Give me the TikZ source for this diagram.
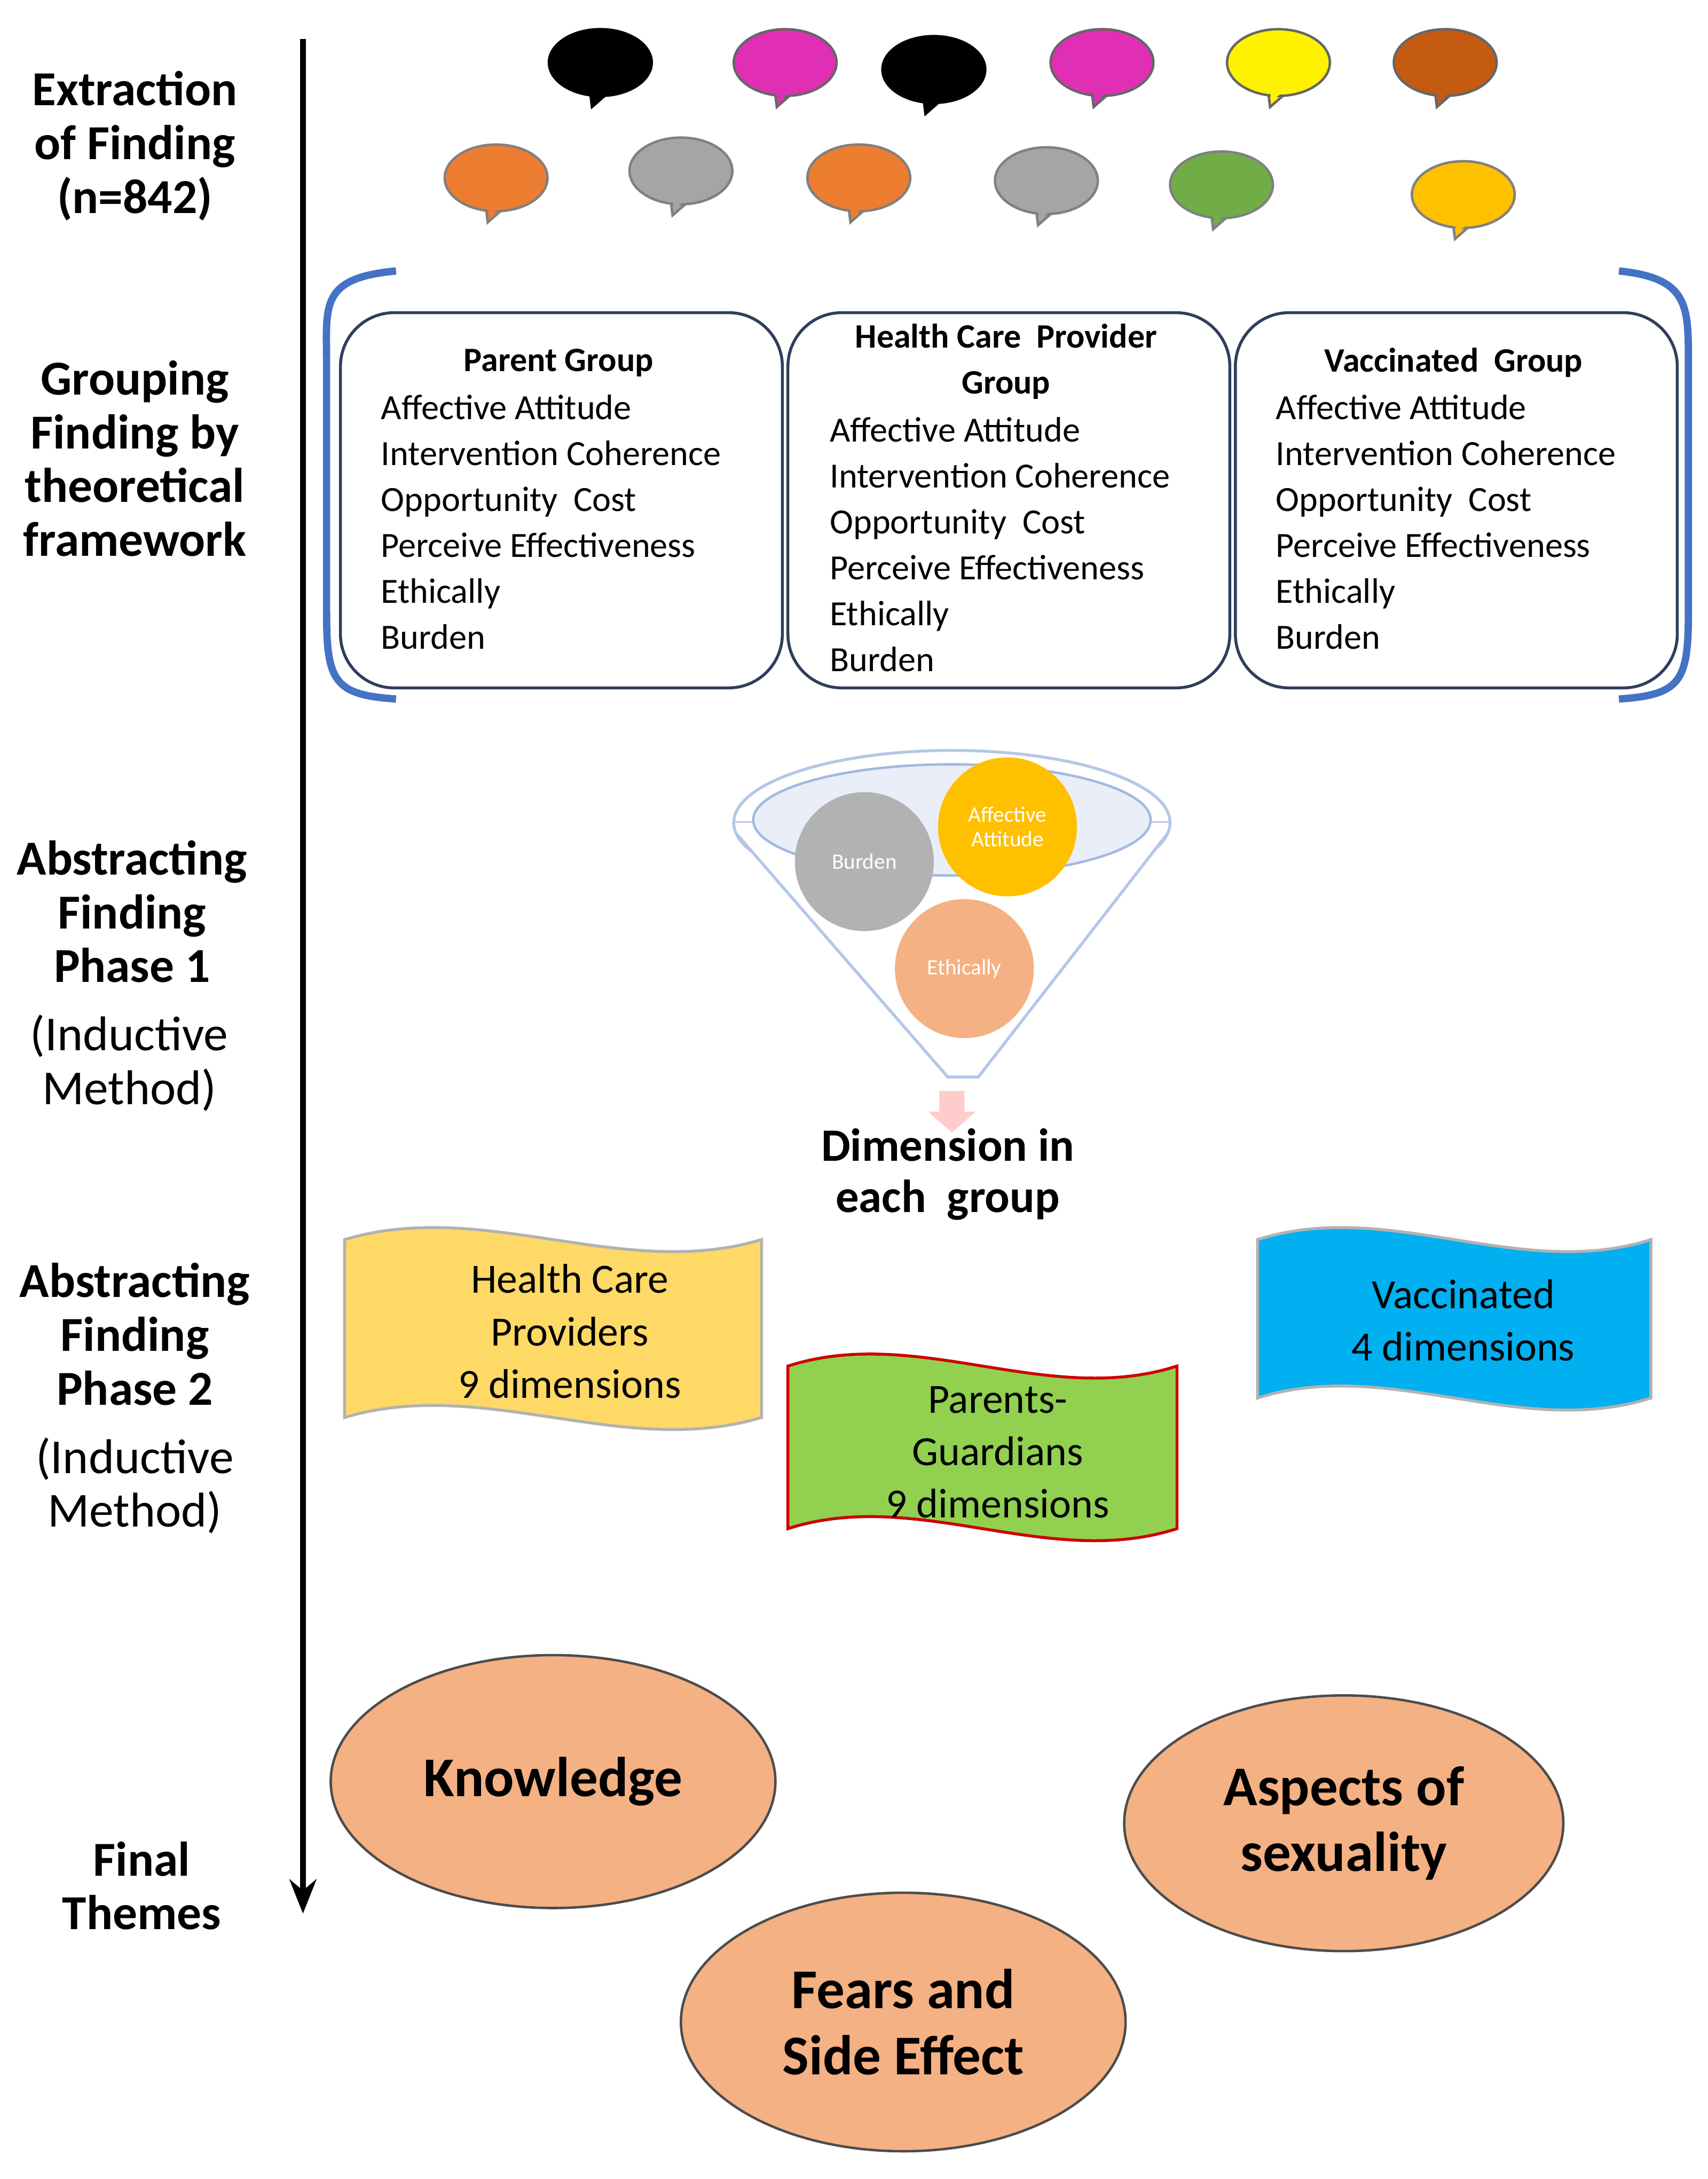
\documentclass[tikz,border=0pt]{standalone}
\usepackage{fontspec}
\setmainfont{Carlito}
\usetikzlibrary{arrows.meta,shapes.geometric}
\definecolor{navy}{HTML}{2F3E5C}
\definecolor{bblue}{HTML}{4472C4}
\definecolor{salmon}{HTML}{F4B183}
\definecolor{borange}{HTML}{ED7D31}
\definecolor{bmag}{HTML}{E02FB5}
\definecolor{bbrown}{HTML}{C55A11}
\definecolor{bgreen}{HTML}{70AD47}
\definecolor{bgold}{HTML}{FFC000}
\definecolor{bgray}{HTML}{A5A5A5}
\definecolor{byel}{HTML}{FFD966}
\definecolor{bgr2}{HTML}{92D050}
\definecolor{bcyan}{HTML}{00B0F0}
\newcommand{\bubble}[4]{%
 \draw[fill=#3,draw=#4,line width=1pt] ({#1-8},{#2+16}) -- ({#1-6},{#2+32}) -- ({#1+10},{#2+18}) -- cycle;
 \draw[fill=#3,draw=#4,line width=1pt] (#1,#2) ellipse (37 and 24);
 \fill[#3] ({#1-7},{#2+14}) -- ({#1-5},{#2+28}) -- ({#1+9},{#2+16}) -- cycle;}
\newcommand{\banner}[6]{%
 \draw[fill=#5,draw=#6,line width=1.2pt] (#1,#2) .. controls ({#1+(#3-#1)/3},{#2-30}) and ({#1+2*(#3-#1)/3},{#2+30}) .. (#3,#2)
 -- (#3,#4) .. controls ({#1+2*(#3-#1)/3},{#4+30}) and ({#1+(#3-#1)/3},{#4-30}) .. (#1,#4) -- cycle;}
\begin{document}
\begin{tikzpicture}[x=0.02cm,y=-0.02cm,
 lab/.style={align=center,font=\fontsize{20}{22}\selectfont\bfseries},
 labn/.style={align=center,font=\fontsize{20}{22}\selectfont},
 box/.style={draw=navy,line width=1.2pt,rounded corners=22pt},
 item/.style={align=left,anchor=north west,font=\fontsize{14.5}{18.8}\selectfont},
 ttl/.style={align=center,font=\fontsize{14}{18.8}\selectfont\bfseries},
 circ/.style={circle,minimum size=100*0.02cm,inner sep=0pt,text=white,font=\fontsize{9}{10}\selectfont,align=center},
 theme/.style={ellipse,draw=black!70,line width=1pt,fill=salmon,font=\fontsize{23}{27}\selectfont\bfseries,align=center},
 ban/.style={align=center,font=\fontsize{17}{21.5}\selectfont}]
\useasboundingbox (0,0) rectangle (1229,1568);
\coordinate (atop) at (218,28); \coordinate (abot) at (218,1377);
\draw[line width=2.5pt,-{Stealth[length=14pt,width=11pt]}] (atop) -- (abot);
\node[lab] (l1) at (97,105) {Extraction\\of Finding\\(n=842)};
\node[lab] (l2) at (97,330) {Grouping\\Finding by\\theoretical\\framework};
\node[lab] (l3) at (95,656) {Abstracting\\Finding\\Phase 1};
\node[labn] (l3b) at (93,765) {(Inductive\\Method)};
\node[lab] (l4) at (97,960) {Abstracting\\Finding\\Phase 2};
\node[labn] (l4b) at (97,1069) {(Inductive\\Method)};
\node[lab] (l5) at (102,1357) {Final\\Themes};
% bubbles
\bubble{432}{45}{black}{black}
\bubble{565}{45}{bmag}{black!60}
\bubble{672}{50}{black}{black}
\bubble{793}{45}{bmag}{black!60}
\bubble{920}{45}{yellow}{black!60}
\bubble{1040}{45}{bbrown}{black!60}
\bubble{357}{128}{borange}{black!50}
\bubble{490}{123}{bgray}{black!50}
\bubble{618}{128}{borange}{black!50}
\bubble{753}{130}{bgray}{black!50}
\bubble{879}{133}{bgreen}{black!50}
\bubble{1053}{140}{bgold}{black!50}
% brackets
\draw[bblue,line width=3pt] (285,195) .. controls (230,200) and (235,220) .. (235,260) -- (235,440) .. controls (235,490) and (240,500) .. (285,503);
\draw[bblue,line width=3pt] (1165,195) .. controls (1215,200) and (1215,220) .. (1215,260) -- (1215,440) .. controls (1215,490) and (1210,500) .. (1165,503);
% boxes
\draw[box] (245,225) rectangle (563,495);
\draw[box] (567,225) rectangle (885,495);
\draw[box] (889,225) rectangle (1207,495);
\node[ttl] (t1) at (402,261) {Parent Group};
\node[item] (i1) at (268,278) {Affective Attitude\\Intervention Coherence\\Opportunity\ \ Cost\\Perceive Effectiveness\\Ethically\\Burden};
\node[ttl] (t2) at (724,260) {Health Care\ \ Provider\\Group};
\node[item] (i2) at (591,294) {Affective Attitude\\Intervention Coherence\\Opportunity\ \ Cost\\Perceive Effectiveness\\Ethically\\Burden};
\node[ttl] (t3) at (1046,261) {Vaccinated\ \ Group};
\node[item] (i3) at (912,278) {Affective Attitude\\Intervention Coherence\\Opportunity\ \ Cost\\Perceive Effectiveness\\Ethically\\Burden};
% funnel
\draw[bblue!40,fill=white,line width=1.2pt] (842,592) arc (0:-180:157 and 52) -- cycle;
\draw[bblue!40,fill=white,line width=1.2pt] (528,592) arc (180:0:157 and 52);
\draw[bblue!40,fill=white,line width=1.2pt] (530,600) -- (682,775) -- (704,775) -- (840,600);
\draw[bblue!50,fill=bblue!12,line width=1pt] (685,590) ellipse (143 and 40);
\node[circ,fill=gray!60] (cb) at (622,620) {Burden};
\node[circ,fill=bgold] (ca) at (725,595) {Affective\\Attitude};
\node[circ,fill=salmon] (ce) at (694,697) {Ethically};
\fill[red!20] (676,785) rectangle (694,800) (668,800) -- (702,800) -- (685,815) -- cycle;
\node[lab,font=\fontsize{19}{21}\selectfont\bfseries] (dim) at (682,845) {Dimension in\\each\ \ group};
% banners
\banner{248}{892}{548}{1020}{byel}{black!30}
\node[ban] (b1) at (410,958) {Health Care\\Providers\\9 dimensions};
\banner{567}{983}{847}{1100}{bgr2}{red!80!black}
\node[ban] (b2) at (718,1045) {Parents-\\Guardians\\9 dimensions};
\banner{905}{892}{1188}{1006}{bcyan}{black!30}
\node[ban] (b3) at (1053,950) {Vaccinated\\4 dimensions};
% themes
\node[theme,minimum width=320*0.02cm,minimum height=182*0.02cm] (k) at (398,1282) {Knowledge};
\node[theme,minimum width=316*0.02cm,minimum height=184*0.02cm] (s) at (967,1312) {Aspects of\\sexuality};
\node[theme,minimum width=320*0.02cm,minimum height=186*0.02cm] (f) at (650,1455) {Fears and\\Side Effect};
\end{tikzpicture}
\end{document}
